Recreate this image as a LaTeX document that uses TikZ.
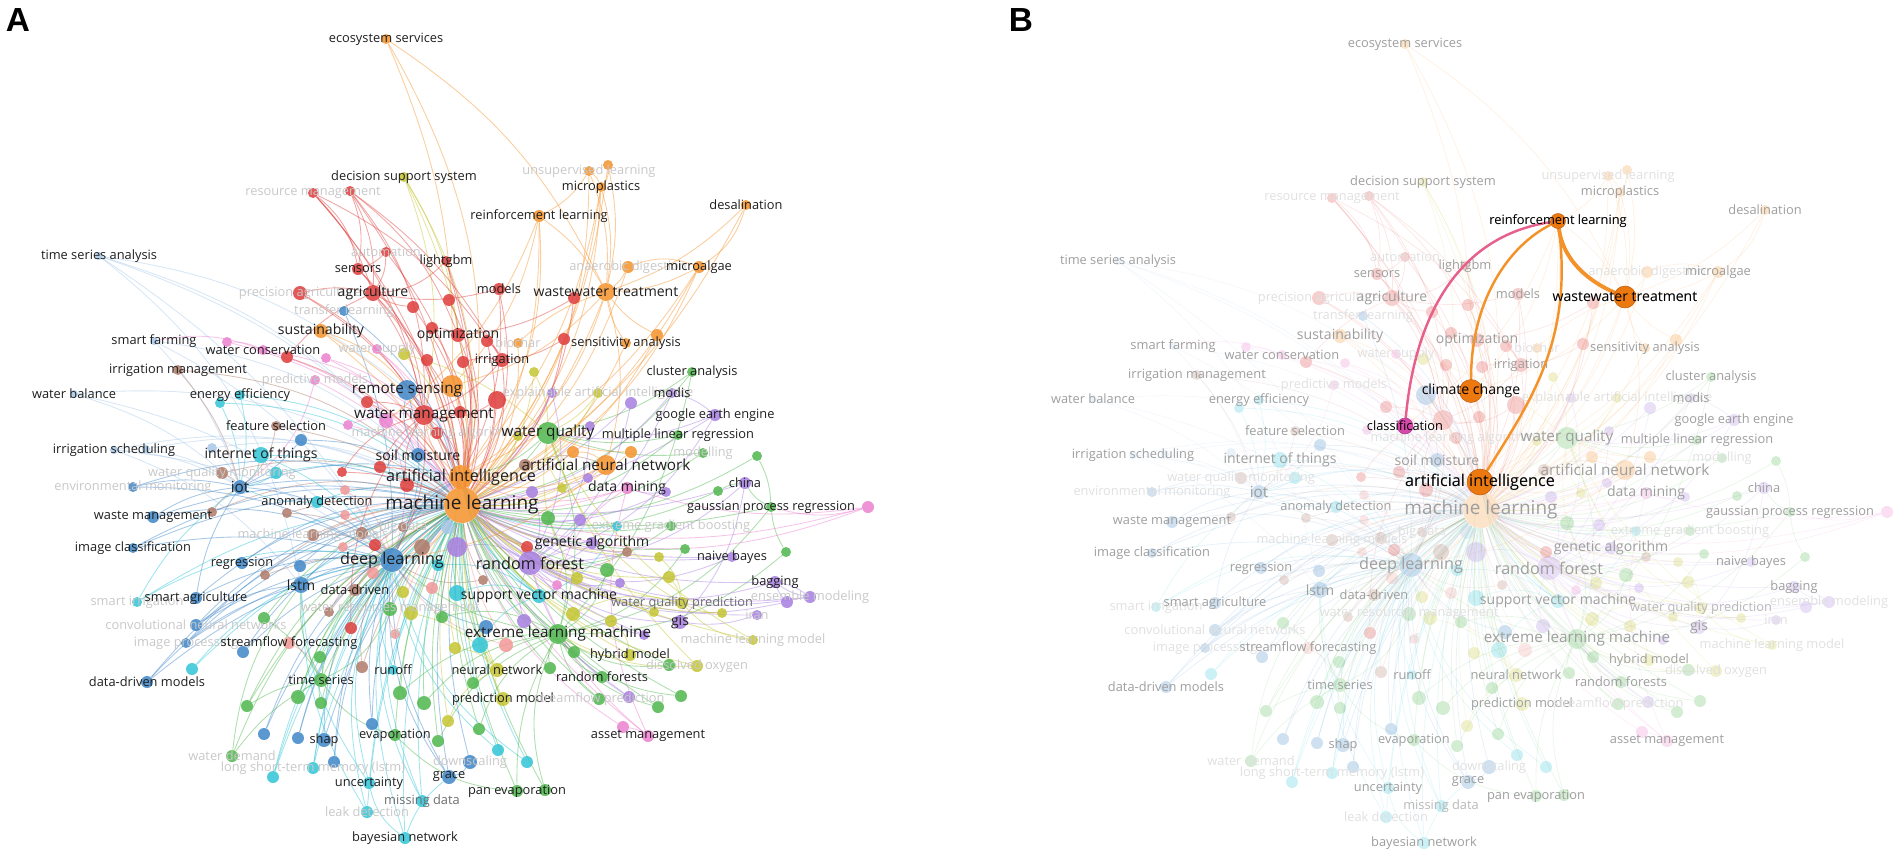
\documentclass[tikz,border=0pt]{standalone}
\usepackage{fontspec}
\setmainfont{Open Sans}
\setsansfont{Liberation Sans}

\pgfdeclarelayer{edges}
\pgfdeclarelayer{hiedge}
\pgfdeclarelayer{hinode}
\pgfsetlayers{edges,main,hiedge,hinode}

\definecolor{kred}{RGB}{222,60,58}
\definecolor{korange}{RGB}{244,146,42}
\definecolor{kblue}{RGB}{62,134,200}
\definecolor{kgreen}{RGB}{78,182,76}
\definecolor{kyellow}{RGB}{196,196,48}
\definecolor{kpurple}{RGB}{166,126,224}
\definecolor{kcyan}{RGB}{48,196,214}
\definecolor{kbrown}{RGB}{176,122,104}
\definecolor{kpink}{RGB}{236,128,208}
\definecolor{ksalmon}{RGB}{242,152,150}
\definecolor{klblue}{RGB}{168,200,232}
\definecolor{kdark}{RGB}{30,30,30}
\definecolor{kmid}{RGB}{110,110,110}
\definecolor{kfaint}{RGB}{200,200,200}
\definecolor{khot}{RGB}{236,120,16}
\definecolor{kmagenta}{RGB}{214,72,170}
\definecolor{krose}{RGB}{230,96,140}

\tikzset{
  kwdot/.style={circle, inner sep=0pt, fill=#1, fill opacity=0.85},
  kwedge/.style={draw=#1, draw opacity=0.45, line width=0.5pt},
  kwtxt/.style={inner sep=0pt, text=kdark, font=\fontsize{7.3}{8}\selectfont},
  kla/.style={kwtxt},
  klb/.style={kwtxt, font=\fontsize{8}{9}\selectfont},
  klc/.style={kwtxt, font=\fontsize{8.7}{9}\selectfont},
  kcr/.style={klc},
  kld/.style={kwtxt, font=\fontsize{9.2}{10}\selectfont},
  kle/.style={kwtxt, font=\fontsize{10.8}{12}\selectfont},
  kfa/.style={kwtxt, text=kfaint},
  kga/.style={kwtxt, text=kmid},
  knl/.style={kwtxt},
  panel/.style={font=\sffamily\bfseries\fontsize{19}{20}\selectfont, inner sep=0pt},
  hidot/.style={circle, inner sep=0pt, fill=#1, draw=#1!80!black, line width=0.3pt},
  hiedge/.style={draw=#1, line width=1.4pt, line cap=round},
}

% x / y / radius / colour / name / label / label style / hub / second link
\newcommand{\kwlist}{
386/39/5/korange/es/ecosystem services/kla/cc/ml,
404/177/5/kyellow/dss/decision support system/kla/opt/ml,
313/193/5/kred/rm/resource management/kfa/agr/sen,
350/191/5/kred/u1//knl/irr/wm,
589/171/5/korange/ul/unsupervised learning/kfa/wt/ml,
608/165/5/korange/u2//knl/wt/mp,
601/187/5/korange/mp/microplastics/kla/wt/ml,
746/205/5/korange/de/desalination/kla/wt/ma,
539/216/6/korange/rl/reinforcement learning/kla/wt/ai,
628/267/6/korange/ad/anaerobic digestion/kfa/wt/ma,
699/267/6/korange/ma/microalgae/kla/wt/ml,
499/289/6/kred/mo/models/kla/agr/ml,
606/292/9/korange/wt/wastewater treatment/klb/ml/ai,
574/298/6/kred/u3//knl/opt/ml,
99/256/4/klblue/tsa/time series analysis/kla/dl/lstm,
386/252/5/kred/au/automation/kfa/sen/ml,
358/269/6/kred/sen/sensors/kla/agr/wm,
446/261/5/kred/lg/lightgbm/kla/ml/agr,
300/293/7/kred/pa/precision agriculture/kfa/agr/ml,
373/293/8/kred/agr/agriculture/klb/wm/ml,
344/311/5/kblue/tl/transfer learning/kfa/dl/ml,
413/307/6/kred/u4//knl/agr/ml,
449/300/6/kred/u5//knl/opt/ml,
321/331/7/korange/sus/sustainability/klb/ml/wm,
154/341/4/klblue/sf/smart farming/kla/iot/ml,
227/342/5/kpink/u6//knl/wc/ml,
263/350/5/kpink/wc/water conservation/kla/wm/ml,
287/357/6/kred/u7//knl/agr/ml,
377/349/5/kpink/ws/water supply/kfa/wm/ml,
404/354/6/kyellow/u8//knl/wq/ml,
432/328/6/kred/u9//knl/opt/ml,
458/335/7/kred/opt/optimization/klb/ml/ai,
427/360/6/kred/u10//knl/wm/ml,
463/362/6/kred/u11//knl/irr/ml,
487/341/6/kred/u12//knl/irr/ml,
518/343/5/korange/bc/biochar/kfa/wt/ml,
564/339/6/kred/u13//knl/irr/ml,
626/343/5/korange/sa/sensitivity analysis/kla/wt/ml,
657/335/6/korange/u14//knl/wt/ml,
502/360/7/kred/irr/irrigation/kla/wm/ml,
534/372/5/kyellow/u15//knl/wq/ml,
692/372/5/kgreen/ca/cluster analysis/kla/wq/ml,
178/370/5/kbrown/im/irrigation management/kla/iot/ml,
326/358/5/kpink/u16//knl/wm/ml,
315/380/5/kpink/pm/predictive models/kfa/ml/iot,
74/394/4/klblue/wb/water balance/kla/iot/ml,
220/403/5/kcyan/u17//knl/iot/ml,
240/395/5/kcyan/ee/energy efficiency/kla/iot/ml,
407/390/10/kblue/rs/remote sensing/kcr/ml/dl,
367/402/6/kred/u18//knl/wm/ml,
452/386/11/korange/cc//knl/ml/ai,
424/415/10/kred/wm/water management/kcr/ml/ai,
386/421/7/kpink/cl//knl/ml/dl,
348/425/5/kpink/u19//knl/wm/ml,
276/426/5/kbrown/fs/feature selection/kla/ml/iot,
301/440/6/kblue/u20//knl/iot/ml,
437/433/6/kred/mla/machine learning algorithms/kfa/ml/wm,
460/412/6/kred/u114//knl/ml/wm,
552/393/5/kpurple/u21//knl/ml/rf,
598/393/5/kyellow/xai/explainable artificial intelligence/kfa/wq/ml,
672/393/5/kpurple/modis/modis/kla/ge/ml,
631/403/6/kpurple/u22//knl/ml/rf,
497/400/9/kred/u23//knl/ml/wm,
715/415/6/kpurple/ge/google earth engine/kla/ml/rf,
548/433/11/kgreen/wq/water quality/klc/ml/elm,
518/436/5/kyellow/u24//knl/wq/ml,
590/426/5/kpurple/u25//knl/ml/rf,
678/435/5/kgreen/mlr/multiple linear regression/kla/wq/ml,
573/452/6/korange/u26//knl/ml/ann,
631/452/6/korange/u27//knl/wq/ml,
703/453/5/kgreen/mod/modelling/kfa/wq/ml,
757/456/5/kgreen/u28//knl/gpr/ml,
114/450/4/klblue/is/irrigation scheduling/kla/iot/ml,
146/449/4/klblue/u29//knl/iot/ml,
212/448/5/klblue/u30//knl/iot/ml,
261/455/8/kcyan/iotx/internet of things/klb/ml/iot,
418/455/7/kblue/sm/soil moisture/klb/ml/rs,
380/467/6/kred/u31//knl/wm/ml,
222/473/6/kbrown/wqm/water quality monitoring/kfa/iot/ml,
276/473/6/kcyan/u32//knl/iot/ml,
342/472/5/kred/u33//knl/ml/wm,
525/465/6/kbrown/u34//knl/ml/ann,
606/465/10/korange/ann/artificial neural network/klc/ml/ai,
133/487/5/kblue/em/environmental monitoring/kfa/iot/ml,
240/487/7/kblue/iot/iot/klc/ml/dl,
461/477/12/korange/ai/artificial intelligence/kld/ml/wm,
407/485/7/kred/u35//knl/ml/wm,
588/478/5/kpurple/u36//knl/ann/ml,
532/492/6/kpurple/u37//knl/ml/rf,
562/488/5/kyellow/u38//knl/ml/wq,
627/488/6/kpink/dm/data mining/klb/ml/ai,
666/492/5/kpurple/u39//knl/dm/ml,
718/491/5/kgreen/u40//knl/ch/ml,
745/483/6/kpurple/ch/china/kla/ml/rf,
345/490/5/ksalmon/u115//knl/ml/dl,
317/502/6/kcyan/adt/anomaly detection/kla/iot/ml,
212/512/5/kbrown/u41//knl/iot/ml,
287/513/5/kbrown/u42//knl/ml/dl,
153/517/6/kblue/wam/waste management/kla/iot/dl,
462/505/18/korange/ml/machine learning/kle/ai/dl,
345/515/5/ksalmon/u116//knl/ml/dl,
313/535/6/kbrown/mlm/machine learning models/kfa/ml/dl,
362/533/6/kbrown/u43//knl/ml/dl,
403/527/5/kbrown/bd/big data/kfa/ml/ai,
448/527/7/klblue/u44//knl/ml/dl,
548/518/7/kgreen/u45//knl/ml/elm,
580/520/6/kpurple/u46//knl/ml/rf,
617/526/5/kcyan/u47//knl/ml/svm,
671/526/5/kgreen/xgb/extreme gradient boosting/kfa/ml/rf,
771/507/5/kgreen/gpr/gaussian process regression/kla/ml/elm,
868/507/6/kpink/u48//knl/dm/ml,
133/548/5/kblue/ic/image classification/kla/dl/ml,
375/545/6/kred/u49//knl/ml/dl,
422/547/8/kbrown/u50//knl/ml/dl,
457/547/10/kpurple/u51//knl/ml/rf,
343/547/5/ksalmon/u117//knl/ml/dl,
527/547/6/kred/u52//knl/ml/ai,
592/543/6/kpurple/ga/genetic algorithm/klb/ml/rf,
627/552/5/kbrown/u53//knl/ml/rf,
659/557/5/kyellow/u54//knl/ml/wqp,
685/549/5/kgreen/u55//knl/ml/elm,
786/552/5/kgreen/u56//knl/gpr/elm,
732/557/5/kpurple/nb/naive bayes/kla/ml/rf,
242/563/6/kblue/reg/regression/kla/dl/ml,
392/560/12/kblue/dl/deep learning/kld/ml/ai,
300/566/6/kblue/u57//knl/dl/ml,
438/565/6/kcyan/u58//knl/ml/svm,
265/575/5/kbrown/u59//knl/dl/ml,
373/573/6/ksalmon/u60//knl/ml/dl,
530/563/12/kpurple/rf/random forest/kld/ml/ai,
607/570/7/kgreen/u61//knl/ml/elm,
669/577/6/kyellow/u62//knl/wqp/ml,
620/583/5/kpurple/u63//knl/ml/rf,
557/585/5/kpink/u64//knl/ml/dm,
577/578/6/kyellow/u65//knl/ml/wq,
483/580/5/kbrown/u66//knl/ml/dl,
775/582/6/kpurple/bag/bagging/kla/em2/rf,
301/585/8/kblue/lstm/lstm/klb/dl/ml,
355/590/6/kbrown/dd/data-driven/kla/ml/dl,
403/592/6/kyellow/u67//knl/ml/dl,
432/588/6/ksalmon/u68//knl/ml/dl,
457/593/8/kcyan/u69//knl/ml/svm,
539/596/7/kcyan/svm/support vector machine/klb/ml/ai,
137/602/5/kcyan/si/smart irrigation/kfa/iot/dl,
196/598/6/kblue/sag/smart agriculture/kla/iot/ml,
682/603/6/kyellow/wqp/water quality prediction/kga/ml/wq,
787/602/6/kpurple/u70//knl/bag/rf,
810/597/6/kpurple/em2/ensemble modeling/kfa/bag/ml,
329/612/5/kbrown/u71//knl/ml/dl,
390/609/7/kgreen/wrm/water resources management/kfa/ml/ts,
411/613/7/kyellow/u72//knl/ml/nn,
442/617/6/kgreen/u73//knl/ml/elm,
757/615/5/kpurple/iran/iran/kfa/gis/ml,
680/622/7/kpurple/gis/gis/klb/ml/rf,
722/613/5/kyellow/u74//knl/wqp/ml,
654/612/5/kyellow/u75//knl/ml/wqp,
573/614/7/kyellow/u76//knl/ml/wqp,
611/621/6/kyellow/u77//knl/ml/hm,
524/621/7/kpurple/u78//knl/ml/rf,
196/625/6/kblue/cnn/convolutional neural networks/kfa/dl/ml,
264/618/6/kgreen/u79//knl/ts/ml,
351/628/6/kred/u80//knl/ml/wm,
395/634/5/ksalmon/rfx/rf/kfa/ml/dl,
558/634/10/kgreen/elm/extreme learning machine/klc/ml/ai,
486/627/7/kblue/u81//knl/ml/dl,
480/645/8/kcyan/u82//knl/ml/svm,
506/645/7/ksalmon/u83//knl/ml/dl,
644/635/5/kpurple/u84//knl/ml/rf,
455/648/6/kyellow/u85//knl/ml/nn,
753/640/5/kyellow/mlmod/machine learning model/kfa/ml/wqp,
186/643/5/kblue/ip/image processing/kfa/dl/ml,
243/652/6/kblue/u86//knl/dl/ml,
289/643/6/ksalmon/sff/streamflow forecasting/kla/ml/ts,
320/657/6/kgreen/u87//knl/ts/ml,
630/655/6/kyellow/hm/hybrid model/kla/ml/elm,
574/652/6/kgreen/u88//knl/elm/ml,
669/665/6/kgreen/u89//knl/ml/elm,
697/666/6/kyellow/do/dissolved oxygen/kfa/wq/ml,
192/669/6/kcyan/u90//knl/ml/dl,
147/682/6/kblue/ddm/data-driven models/kla/dl/ml,
362/667/6/kbrown/u91//knl/ml/dl,
393/670/5/kcyan/ro/runoff/kla/ml/dl,
497/670/7/kyellow/nn/neural network/kla/ml/ai,
550/668/6/kgreen/u92//knl/ml/elm,
602/677/6/kgreen/rfs/random forests/kla/ml/elm,
321/680/7/kgreen/ts/time series/kla/ml/dl,
473/683/6/kgreen/u93//knl/ml/elm,
298/697/7/kgreen/u94//knl/ts/ml,
321/703/6/kgreen/u95//knl/ts/ml,
247/706/6/kgreen/u96//knl/ts/ml,
400/693/7/kgreen/u97//knl/ml/elm,
424/703/7/kgreen/u98//knl/ml/elm,
503/699/7/kyellow/pmod/prediction model/kla/ml/nn,
599/699/6/kgreen/sfp/streamflow prediction/kfa/ml/elm,
629/697/6/kpurple/u99//knl/ml/rf,
658/707/6/kgreen/u100//knl/ml/elm,
681/696/6/kgreen/u101//knl/ml/elm,
448/721/6/kyellow/u102//knl/ml/nn,
372/724/6/kblue/u103//knl/dl/ml,
395/735/6/kgreen/evp/evaporation/kla/ml/ts,
479/729/6/kgreen/u104//knl/ml/elm,
438/741/6/kgreen/u105//knl/ml/elm,
623/727/6/kpink/u106//knl/am/ml,
648/736/6/kpink/am/asset management/kla/ml/dm,
264/734/6/kblue/u107//knl/dl/ml,
298/738/6/kblue/u108//knl/dl/ml,
324/740/7/kblue/shap/shap/kla/ml/dl,
232/756/6/kgreen/wd/water demand/kfa/ts/ml,
498/750/6/kcyan/u109//knl/ml/dl,
313/768/6/kcyan/lstmm/{long short-term memory (lstm)}/kfa/dl/ml,
334/762/6/kblue/u110//knl/dl/ml,
273/777/6/kcyan/u111//knl/dl/ml,
470/762/7/kblue/ds/downscaling/kfa/ml/gr,
527/762/6/kcyan/u112//knl/ml/dl,
369/783/6/kcyan/unc/uncertainty/kla/ml/dl,
449/777/7/kblue/gr/grace/kla/ml/dl,
517/791/6/kgreen/pe/pan evaporation/kla/ml/evp,
545/790/6/kgreen/u113//knl/ml/elm,
422/801/6/kcyan/md/missing data/kga/ml/dl,
367/812/6/kcyan/lkd/leak detection/kfa/ml/dl,
405/838/6/kcyan/bn/bayesian network/kla/ml/unc}

% extra links: from / to / colour
\newcommand{\kwextra}{
es/wt/korange, dss/wm/kyellow, dss/ml/kyellow, rm/wm/kred, rm/irr/kred, rm/ml/kred,
u1/sen/kred, u1/opt/kred, u1/agr/kred, u1/ml/kred, tsa/rs/klblue, tsa/ml/klblue,
tsa/sm/klblue, rl/ml/korange, rl/cc/korange, rl/cl/korange, mp/ml/korange, mp/ai/korange,
ul/rl/korange, ul/mp/korange, u2/ml/korange, de/ml/korange, ma/ml/korange, ma/ai/korange,
ad/ml/korange, wt/cc/korange, wt/ann/korange, sf/dl/klblue, sf/wc/kpink, wb/dl/klblue,
is/dl/klblue, is/lstm/klblue, em/dl/kblue, wam/ml/kblue, ic/ml/kblue, ddm/lstm/kblue,
sag/dl/kblue, si/ml/kcyan, cnn/lstm/kblue, ip/ml/kblue, u48/ml/kpink, u48/gpr/kpink,
gpr/ch/kgreen, bag/ml/kpurple, em2/rf/kpurple, nb/ml/kpurple, bn/dl/kcyan, bn/gr/kcyan,
md/dl/kcyan, lkd/lstm/kcyan, unc/lstm/kcyan, pe/elm/kgreen, gr/dl/kblue, am/rf/kpink,
lg/ai/kred, au/agr/kred, sen/ai/kred, agr/ai/kred, pa/wm/kred, mo/ai/kred, sus/ai/korange,
ca/elm/kgreen, modis/rf/kpurple, ge/wq/kpurple, ch/gis/kpurple, mlmod/wq/kyellow,
do/elm/kyellow, iotx/dl/kcyan, iot/ai/kblue, rs/ai/kblue, wm/dl/kred, dl/ai/kblue,
rf/ai/kpurple, elm/dl/kgreen, svm/ai/kcyan, ann/dl/korange, wq/ai/kgreen, ts/lstm/kgreen,
u96/ml/kgreen, u94/dl/kgreen, wd/lstm/kgreen, u111/ml/kcyan, lstmm/ml/kcyan}

% whole keyword map, #1 = name prefix
\newcommand{\kwmap}[1]{%
  \foreach \x/\y/\rad/\col/\n/\lab/\sty/\hub/\tgt in \kwlist
    \node[kwdot=\col, minimum size=\rad*0.04cm] (#1\n) at (\x,\y) {};
  \begin{pgfonlayer}{edges}
    \foreach \x/\y/\rad/\col/\n/\lab/\sty/\hub/\tgt in \kwlist {
      \draw[kwedge=\col] (#1\n) to[bend left=12] (#1\hub);
      \draw[kwedge=\col] (#1\n) to[bend left=20] (#1\tgt);
    }
    \foreach \a/\b/\col in \kwextra
      \draw[kwedge=\col] (#1\a) to[bend left=15] (#1\b);
  \end{pgfonlayer}
  \foreach \x/\y/\rad/\col/\n/\lab/\sty/\hub/\tgt in \kwlist
    \node[\sty] (#1\n-t) at (\x,\y) {\lab};
}

\begin{document}
\begin{tikzpicture}[x=0.02cm, y=-0.02cm]
  \useasboundingbox (0,0) rectangle (1902,860);

  % panel A
  \node[panel] (pa) at (18,20) {A};
  \kwmap{a}

  % panel B: same map faded, links of reinforcement learning on top
  \node[panel] (pb) at (1021,20) {B};
  \begin{scope}[shift={(1019,5)},
      kwdot/.style={circle, inner sep=0pt, fill=#1, fill opacity=0.25},
      kwedge/.style={draw=#1, draw opacity=0.12, line width=0.45pt},
      kcr/.style={klc, text opacity=0}]
    \colorlet{kdark}{black!38}
    \colorlet{kmid}{black!28}
    \colorlet{kfaint}{black!12}
    \kwmap{b}

    \begin{pgfonlayer}{hinode}
      \node[hidot=khot, minimum size=0.30cm] (hrl) at (539,216) {};
      \node[hidot=khot, minimum size=0.44cm] (hwt) at (606,292) {};
      \node[hidot=khot, minimum size=0.46cm] (hcc) at (452,386) {};
      \node[hidot=khot, minimum size=0.52cm] (hai) at (461,477) {};
      \node[hidot=kmagenta, minimum size=0.32cm] (hcl) at (386,421) {};
      \node[kla, text=black] (hrl-t) at (hrl) {reinforcement learning};
      \node[klb, text=black] (hwt-t) at (hwt) {wastewater treatment};
      \node[klb, text=black] (hcc-t) at (hcc) {climate change};
      \node[kld, text=black] (hai-t) at (hai) {artificial intelligence};
      \node[kla, text=black] (hcl-t) at (hcl) {classification};
    \end{pgfonlayer}

    \begin{pgfonlayer}{hiedge}
      \draw[hiedge=korange, line width=2.2pt] (hrl) .. controls +(5,40) and +(-35,-15) .. (hwt);
      \draw[hiedge=korange] (hrl) .. controls +(-50,25) and +(0,-90) .. (hcc);
      \draw[hiedge=korange] (hrl) .. controls +(15,120) and +(50,-80) .. (hai);
      \draw[hiedge=krose] (hrl) .. controls +(-100,15) and +(10,-110) .. (hcl);
    \end{pgfonlayer}
  \end{scope}
\end{tikzpicture}
\end{document}
